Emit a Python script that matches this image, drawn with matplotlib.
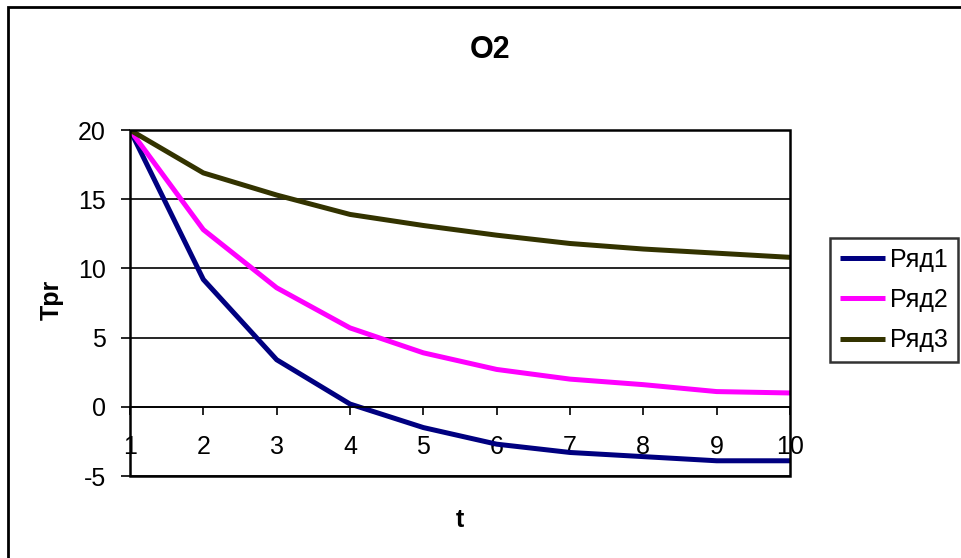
import matplotlib.pyplot as plt
from matplotlib.patches import Rectangle

plt.rcParams['font.family'] = ['Liberation Sans', 'DejaVu Sans']
plt.rcParams['axes.unicode_minus'] = False

# данные
t = [1, 2, 3, 4, 5, 6, 7, 8, 9, 10]
row1 = [20.0, 9.2, 3.4, 0.2, -1.5, -2.7, -3.3, -3.6, -3.9, -3.9]
row2 = [20.0, 12.8, 8.6, 5.7, 3.9, 2.7, 2.0, 1.6, 1.1, 1.0]
row3 = [20.0, 16.9, 15.3, 13.9, 13.1, 12.4, 11.8, 11.4, 11.1, 10.8]
labels = ['Ряд1', 'Ряд2', 'Ряд3']
colors = ['#000080', '#ff00ff', '#333300']
y_ticks = [-5, 0, 5, 10, 15, 20]

fig = plt.figure(figsize=(9.61, 5.58), dpi=100)
ax = fig.add_axes([130 / 961, 82 / 558, 660 / 961, 346 / 558])

# рамка вокруг всей диаграммы
fig.patches.append(Rectangle((8 / 961, -0.05), 1.1, 1 - 7 / 558 + 0.05,
                             transform=fig.transFigure, fill=False,
                             edgecolor='black', linewidth=2))

lines = []
for y, c, lab in zip([row1, row2, row3], colors, labels):
    ln, = ax.plot(t, y, color=c, linewidth=3.6, label=lab, solid_capstyle='butt')
    lines.append(ln)

ax.set_xlim(1, 10)
ax.set_ylim(-5, 20)
ax.set_xticks(t)
ax.set_yticks(y_ticks)

# сетка
ax.grid(True, axis='y', color='black', linewidth=1.2)
ax.set_axisbelow(True)

# ось X проходит через 0
for s in ['top', 'right', 'left']:
    ax.spines[s].set_visible(False)
ax.spines['bottom'].set_position(('data', 0))
ax.spines['bottom'].set_linewidth(1.2)
ax.add_patch(Rectangle((0, 0), 1, 1, transform=ax.transAxes, fill=False,
                       edgecolor='black', linewidth=1.8, clip_on=False, zorder=3))

ax.tick_params(axis='x', direction='out', length=6, width=1.2, pad=14, labelsize=18)
ax.tick_params(axis='y', direction='out', length=6.5, width=1.2, pad=11, labelsize=18)

ax.set_xlabel('t', fontsize=18, fontweight='bold')
ax.xaxis.set_label_coords(0.5, -0.127)
ax.xaxis.label.set_va('center')
ax.set_ylabel('Tpr', fontsize=18, fontweight='bold')
ax.yaxis.set_label_coords(-0.118, 0.51)
ax.yaxis.label.set_va('center')

fig.text(490 / 961, 1 - 50 / 558, 'O2', ha='center', va='center',
         fontsize=22, fontweight='bold')

leg = fig.legend(lines, labels, loc='upper left',
                 bbox_to_anchor=(830 / 961, 1 - 238 / 558),
                 fontsize=18, frameon=True, fancybox=False,
                 handlelength=1.8, handletextpad=0.2, labelspacing=0.65,
                 borderpad=0.4, borderaxespad=0)
leg.get_frame().set_edgecolor('black')
leg.get_frame().set_linewidth(1.8)

fig.savefig('out.png', dpi=100)
